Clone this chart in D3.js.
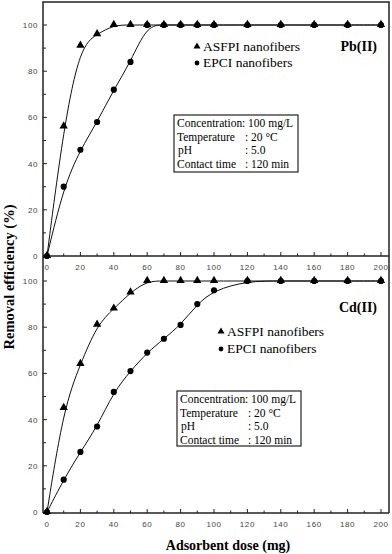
<!DOCTYPE html>
<html><head><meta charset="utf-8">
<script src="https://cdn.jsdelivr.net/npm/d3@7/dist/d3.min.js"></script>
<style>body{margin:0;background:#fff}svg{display:block}</style>
</head><body><svg id="c" width="392" height="554"></svg>
<script>
const doses = [0,10,20,30,40,50,60,70,80,90,100,120,140,160,180,200];
const pbASFPI = [0,56,91,96,100,100,100,100,100,100,100,100,100,100,100,100];
const pbEPCI  = [0,30,46,58,72,84,100,100,100,100,100,100,100,100,100,100];
const cdASFPI = [0,45,64,81,88,95,100,100,100,100,100,100,100,100,100,100];
const cdEPCI  = [0,14,26,37,52,61,69,75,81,90,96,100,100,100,100,100];
const xTicks = [0,20,40,60,80,100,120,140,160,180,200];
const yTicks = [0,20,40,60,80,100];
const seriesNames = ["ASFPI nanofibers","EPCI nanofibers"];
const panelLabels = ["Pb(II)","Cd(II)"];
const conditionLabels = ["Concentration","Temperature","pH","Contact time"];
const conditionValues = [": 100 mg/L",": 20 °C",": 5.0",": 120 min"];

const svg = d3.select("#c");
const L = 43, R = 389, T = 2, B = 513;
const x = d3.scaleLinear().domain([0,200]).range([47,381]);
const panels = [
  {y: d3.scaleLinear().domain([0,100]).range([256,25]), a: pbASFPI, e: pbEPCI, label: panelLabels[0],
   axisY: 256, lab: {x:377,y:51}, leg:{x:197,y1:47,y2:63}, box:{x:174,y:115,w:124,h:57}},
  {y: d3.scaleLinear().domain([0,100]).range([512,281]), a: cdASFPI, e: cdEPCI, label: panelLabels[1],
   axisY: 513, lab: {x:377,y:312}, leg:{x:221,y1:332,y2:349}, box:{x:177,y:391,w:124,h:55}}
];
const stroke = "#222";
const tickFont = "Arial, 'Liberation Sans', sans-serif";
const serif = "'Liberation Serif', serif";

svg.append("path").attr("d", `M${L},${B}V${T}H${R}V${B}`)
  .attr("fill","none").attr("stroke",stroke).attr("stroke-width",1.5);

panels.forEach((p,i) => {
  svg.append("line").attr("x1",L).attr("x2",R).attr("y1",p.axisY).attr("y2",p.axisY)
    .attr("stroke",stroke).attr("stroke-width",1.5);
  d3.range(0,201,10).forEach(v => {
    const major = v % 20 === 0;
    svg.append("line").attr("x1",x(v)).attr("x2",x(v)).attr("y1",p.axisY).attr("y2",p.axisY-(major?4:2.5))
      .attr("stroke",stroke).attr("stroke-width",1);
  });
  xTicks.forEach(v => {
    svg.append("text").attr("x",x(v)).attr("y",p.axisY+14).attr("text-anchor","middle")
      .attr("font-family",tickFont).attr("font-size",8).attr("fill","#444")
      .attr("letter-spacing",0.6).text(v);
  });
  d3.range(0,101,10).forEach(v => {
    const major = v % 20 === 0;
    svg.append("line").attr("x1",L).attr("x2",L+(major?4:3)).attr("y1",p.y(v)).attr("y2",p.y(v))
      .attr("stroke",stroke).attr("stroke-width",1);
  });
  yTicks.forEach(v => {
    svg.append("text").attr("x",38).attr("y",p.y(v)+3).attr("text-anchor","end")
      .attr("font-family",tickFont).attr("font-size",8).attr("fill","#444")
      .attr("letter-spacing",0.6).text(v);
  });
  const line = d3.line().x((d,j)=>x(doses[j])).y(d=>p.y(d)).curve(d3.curveBasis);
  [p.e, p.a].forEach(arr => {
    svg.append("path").attr("d", line(arr)).attr("fill","none").attr("stroke","#111").attr("stroke-width",1);
  });
  const circ = d3.symbol().type(d3.symbolCircle).size(30);
  const tri = d3.symbol().type(d3.symbolTriangle).size(30);
  p.e.forEach((v,j) => svg.append("path").attr("d",circ()).attr("transform",`translate(${x(doses[j])},${p.y(v)})`).attr("fill","#000"));
  p.a.forEach((v,j) => svg.append("path").attr("d",tri()).attr("transform",`translate(${x(doses[j])},${p.y(v)-0.5})`).attr("fill","#000"));
  svg.append("text").attr("x",p.lab.x).attr("y",p.lab.y).attr("text-anchor","end")
    .attr("font-family",serif).attr("font-weight","bold").attr("font-size",14).text(p.label);
  svg.append("path").attr("d",d3.symbol().type(d3.symbolTriangle).size(22)()).attr("transform",`translate(${p.leg.x},${p.leg.y1-0.5})`).attr("fill","#000");
  svg.append("path").attr("d",d3.symbol().type(d3.symbolCircle).size(18)()).attr("transform",`translate(${p.leg.x},${p.leg.y2})`).attr("fill","#000");
  svg.append("text").attr("x",p.leg.x+6).attr("y",p.leg.y1+4).attr("font-family",serif).attr("font-size",13.5).text(seriesNames[0]);
  svg.append("text").attr("x",p.leg.x+6).attr("y",p.leg.y2+4).attr("font-family",serif).attr("font-size",13.5).text(seriesNames[1]);
  svg.append("rect").attr("x",p.box.x).attr("y",p.box.y).attr("width",p.box.w).attr("height",p.box.h)
    .attr("fill","#fff").attr("stroke",stroke).attr("stroke-width",1.2);
  conditionLabels.forEach((t,k) => {
    const ty = p.box.y + 12 + k*13.5;
    svg.append("text").attr("x",p.box.x + (k===2?4:3)).attr("y",ty).attr("font-family",serif).attr("font-size",11.5).text(t);
    svg.append("text").attr("x",p.box.x + (k===0?68:71)).attr("y",ty).attr("font-family",serif).attr("font-size",11.5).text(conditionValues[k]);
  });
});

svg.append("text").attr("transform","translate(14,277) rotate(-90)").attr("text-anchor","middle")
  .attr("font-family",serif).attr("font-weight","bold").attr("font-size",14.5).text("Removal efficiency (%)");
svg.append("text").attr("x",228).attr("y",550).attr("text-anchor","middle")
  .attr("font-family",serif).attr("font-weight","bold").attr("font-size",14).text("Adsorbent dose (mg)");
</script></body></html>
